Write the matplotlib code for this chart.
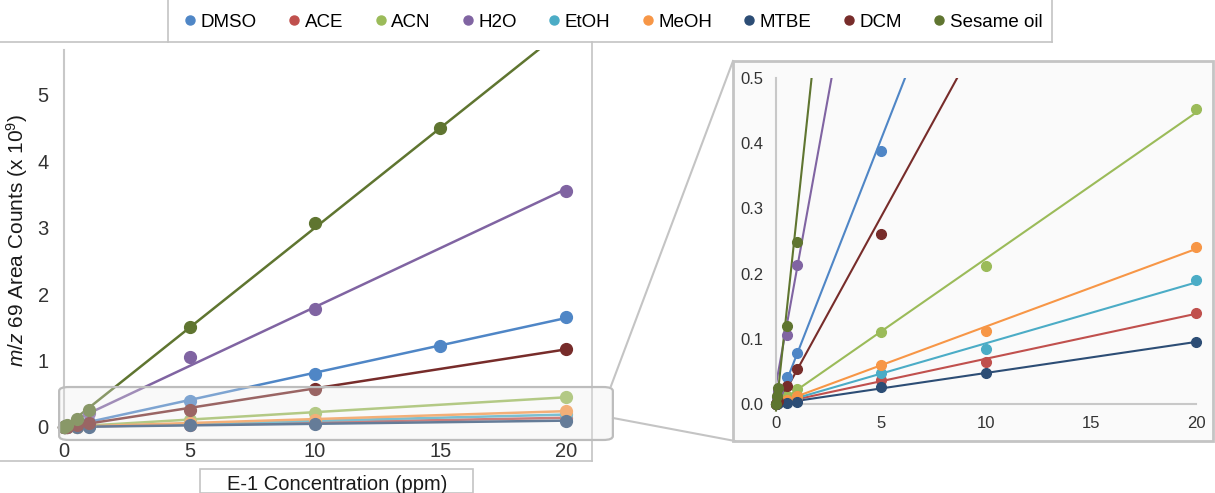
import matplotlib
matplotlib.use("Agg")
import matplotlib.pyplot as plt
import numpy as np
from matplotlib.lines import Line2D
from matplotlib.patches import Rectangle, FancyBboxPatch

plt.rcParams['font.family'] = ['Liberation Sans', 'DejaVu Sans']
plt.rcParams['mathtext.fontset'] = 'custom'
plt.rcParams['mathtext.rm'] = 'Liberation Sans'
plt.rcParams['mathtext.it'] = 'Liberation Sans:italic'

# concentrations (ppm)
x_std = [0, 0.05, 0.1, 0.5, 1, 5, 10, 20]
x_dmso = [0, 0.05, 0.1, 0.5, 1, 5, 10, 15, 20]
x_oil = [0, 0.05, 0.1, 0.5, 1, 5, 10, 15, 20]

# m/z 69 area counts (x 10^9)
dmso = [0, 0.004, 0.008, 0.041, 0.078, 0.388, 0.80, 1.22, 1.66]
ace = [0, 0.001, 0.002, 0.004, 0.007, 0.037, 0.065, 0.140]
acn = [0, 0.002, 0.003, 0.012, 0.023, 0.110, 0.211, 0.453]
h2o = [0, 0.010, 0.020, 0.106, 0.213, 1.06, 1.78, 3.56]
etoh = [0, 0.001, 0.002, 0.005, 0.010, 0.048, 0.085, 0.190]
meoh = [0, 0.001, 0.003, 0.006, 0.012, 0.060, 0.112, 0.241]
mtbe = [0, 0.0005, 0.001, 0.002, 0.003, 0.026, 0.047, 0.095]
dcm = [0, 0.003, 0.005, 0.028, 0.053, 0.260, 0.57, 1.18]
oil = [0, 0.012, 0.025, 0.120, 0.249, 1.50, 3.07, 4.50, 5.98]

names = ['DMSO', 'ACE', 'ACN', 'H2O', 'EtOH', 'MeOH', 'MTBE', 'DCM', 'Sesame oil']
xs = [x_dmso, x_std, x_std, x_std, x_std, x_std, x_std, x_std, x_oil]
ys = [dmso, ace, acn, h2o, etoh, meoh, mtbe, dcm, oil]
colors = ['#4F86C6', '#C0504D', '#9BBB59', '#8064A2', '#4BACC6',
          '#F79646', '#2C4D75', '#772C2A', '#5F7530']

W, H = 1215, 493
fig = plt.figure(figsize=(W / 100, H / 100), dpi=100)


def fx(px):
    return px / W


def fy(py):
    return 1 - py / H


grey = '#c4c4c4'

# inset background panel
fig.add_artist(Rectangle((fx(733), fy(441)), fx(1213) - fx(733), fy(61) - fy(441),
                         transform=fig.transFigure, facecolor='#fafafa',
                         edgecolor=grey, lw=2, zorder=0))

ax = fig.add_axes([fx(56.5), fy(433.6), fx(581) - fx(56.5), fy(49.8) - fy(433.6)])
ins = fig.add_axes([fx(767.6), fy(411.8), fx(1204.4) - fx(767.6), fy(78) - fy(411.8)])
ins.patch.set_alpha(0)
ax.patch.set_alpha(0)

for x, y, c in zip(xs, ys, colors):
    x = np.array(x)
    y = np.array(y)
    k, b = np.polyfit(x, y, 1)
    xl = np.array([0, x.max()])
    ax.plot(xl, k * xl + b, color=c, lw=1.8, zorder=2)
    ins.plot(xl, k * xl + b, color=c, lw=1.5, zorder=2)
    m = y <= 5.68
    ax.plot(x[m], y[m], 'o', color=c, ms=8.5, clip_on=False, zorder=3)
    m = y <= 0.5
    ins.plot(x[m], y[m], 'o', color=c, ms=7, clip_on=False, zorder=3)

# main axes
ax.set_xlim(-0.3, 20.6)
ax.set_ylim(-0.1, 5.68)
ax.set_xticks([0, 5, 10, 15, 20])
ax.set_yticks([0, 1, 2, 3, 4, 5])
for s in ['top', 'right', 'bottom']:
    ax.spines[s].set_visible(False)
ax.spines['bottom'].set_position(('data', 0))
ax.spines['left'].set_position(('data', 0))
ax.spines['left'].set_bounds(0, 5.68)
ax.spines['left'].set_color('#c8c8c8')
ax.spines['left'].set_linewidth(1.5)
ax.tick_params(axis='y', length=0, pad=11, labelsize=14.5, labelcolor='#333333')
ax.tick_params(axis='x', length=0, pad=11, labelsize=14.5, labelcolor='#333333')

# inset axes
ins.set_xlim(-0.4, 20.4)
ins.set_ylim(-0.012, 0.5)
ins.set_xticks([0, 5, 10, 15, 20])
ins.set_yticks([0.0, 0.1, 0.2, 0.3, 0.4, 0.5])
ins.set_yticklabels(['0.0', '0.1', '0.2', '0.3', '0.4', '0.5'])
for s in ['top', 'right']:
    ins.spines[s].set_visible(False)
ins.spines['bottom'].set_position(('data', 0))
ins.spines['left'].set_position(('data', 0))
ins.spines['bottom'].set_bounds(0, 20)
ins.spines['left'].set_bounds(0, 0.5)
for s in ['bottom', 'left']:
    ins.spines[s].set_color('#c8c8c8')
    ins.spines[s].set_linewidth(1.5)
ins.tick_params(length=0, pad=9, labelsize=12, labelcolor='#333333')

# zoom highlight box on main chart
fig.add_artist(FancyBboxPatch((fx(64), fy(438)), fx(608) - fx(64), fy(389) - fy(438),
                              boxstyle='round,pad=0.004,rounding_size=0.008',
                              transform=fig.transFigure, facecolor='#ececec', alpha=0.3,
                              edgecolor='none', zorder=5))
fig.add_artist(FancyBboxPatch((fx(64), fy(438)), fx(608) - fx(64), fy(389) - fy(438),
                              boxstyle='round,pad=0.004,rounding_size=0.008',
                              transform=fig.transFigure, facecolor='none',
                              edgecolor='#bdbdbd', lw=1.6, zorder=5))
fig.add_artist(Line2D([fx(611), fx(733)], [fy(386), fy(61)], transform=fig.transFigure,
                      color=grey, lw=1.5))
fig.add_artist(Line2D([fx(613), fx(735)], [fy(418), fy(441)], transform=fig.transFigure,
                      color=grey, lw=1.5))

# chart frame lines
fig.add_artist(Line2D([0, fx(1052)], [fy(42), fy(42)], transform=fig.transFigure, color=grey, lw=1.2))
fig.add_artist(Line2D([fx(168), fx(168)], [fy(42), 1], transform=fig.transFigure, color=grey, lw=1.2))
fig.add_artist(Line2D([fx(1052), fx(1052)], [fy(42), 1], transform=fig.transFigure, color=grey, lw=1.2))
fig.add_artist(Line2D([fx(592), fx(592)], [fy(42), fy(461)], transform=fig.transFigure, color=grey, lw=1.2))
fig.add_artist(Line2D([0, fx(592)], [fy(461), fy(461)], transform=fig.transFigure, color=grey, lw=1.2))

# legend
handles = [Line2D([], [], marker='o', ls='', color=c, ms=6.5) for c in colors]
fig.legend(handles, names, loc='center', bbox_to_anchor=(fx(614), fy(22)), ncol=9,
           frameon=False, fontsize=13.5, handlelength=0.5, handletextpad=0.3,
           columnspacing=1.75, borderaxespad=0)

# axis titles
fig.text(fx(17), fy(240), r'$\it{m/z}$ 69 Area Counts (x 10$^{9}$)', rotation=90,
         ha='center', va='center', fontsize=15, color='#1a1a1a')
fig.add_artist(Rectangle((fx(200), 0), fx(473) - fx(200), fy(469), transform=fig.transFigure,
                         facecolor='white', edgecolor=grey, lw=1.2))
fig.text(fx(337), fy(484), 'E-1 Concentration (ppm)', ha='center', va='center',
         fontsize=14.5, color='#1a1a1a')

fig.savefig('out.png', dpi=100)
